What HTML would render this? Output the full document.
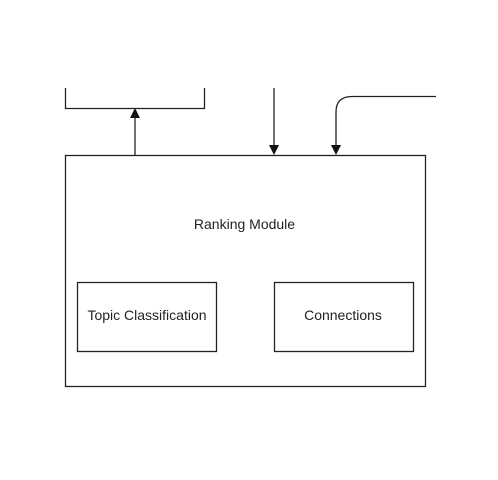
<!DOCTYPE html>
<html><head><style>body{margin:0;background:#fff}</style></head><body>
<svg width="498" height="480" xmlns="http://www.w3.org/2000/svg" style="display:block">
<g fill="none" stroke="#222" stroke-width="1.3">
<path d="M65.5 88 V108.5 H204.5 V88"/>
<path d="M135 155 V116"/>
<path d="M274 88 V147"/>
<path d="M436 96.5 H352 Q336 96.5 336 112 V147"/>
<rect x="65.5" y="155.5" width="360" height="231"/>
<rect x="77.5" y="282.5" width="139" height="69"/>
<rect x="274.5" y="282.5" width="139" height="69"/>
</g>
<g fill="#111">
<path d="M130 118 L135 108 L140 118 Z"/>
<path d="M269 145 L274 155 L279 145 Z"/>
<path d="M331 145 L336 155 L341 145 Z"/>
</g>
<g font-family="Liberation Sans, sans-serif" font-size="14" fill="#222" text-anchor="middle">
<text x="244.5" y="229">Ranking Module</text>
<text x="147" y="320">Topic Classification</text>
<text x="343" y="320">Connections</text>
</g>
</svg>
</body></html>
